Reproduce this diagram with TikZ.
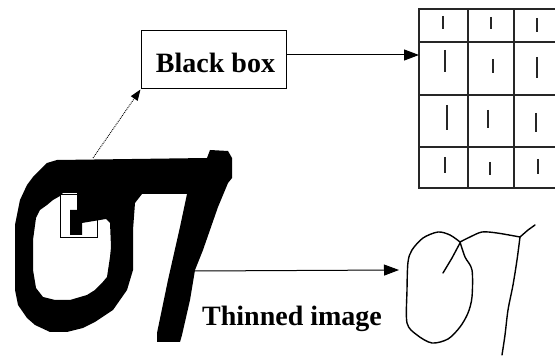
\documentclass[tikz,border=0pt]{standalone}
\usepackage{fontspec}
\setmainfont{Liberation Serif}
\usetikzlibrary{arrows.meta}
\begin{document}
\begin{tikzpicture}[x=1pt,y=-1pt,
  lbl/.style={font=\fontsize{28}{28}\selectfont\bfseries, inner sep=0pt},
  gridline/.style={line width=1.8pt, black!85},
  tick/.style={line width=2.6pt, black!85},
  bigarrow/.style={line width=1pt, -{Triangle[length=15pt,width=11pt]}},
  smallarrow/.style={line width=0.9pt, densely dotted, -{Triangle[length=11pt,width=8pt]}},
  thin/.style={line width=1.4pt, line join=round, line cap=round}]
\useasboundingbox (0,0) rectangle (555,358);
% big handwritten glyph
\fill[black, even odd rule]
  (57,160) -- (207,158) -- (210,150) -- (228,151) -- (232,158) -- (232,178) -- (228,183)
  -- (218,207) -- (203,250) -- (195,270) -- (190,300) -- (182,335) -- (180,342)
  -- (157,342) -- (157,333) -- (168,280) -- (180,227) -- (187,194) -- (142,194)
  -- (135,203) -- (133,230) -- (133,270) -- (127,290) -- (113,310) -- (95,322)
  -- (83,328) -- (67,332) -- (50,332) -- (35,325) -- (27,318) -- (18,305)
  -- (15,290) -- (15,225) -- (20,200) -- (27,185) -- (33,177) -- (40,170) -- (47,163) -- cycle
  (33,240) -- (36,218) -- (40,210) -- (47,205) -- (53,200) -- (60,196) -- (63,193)
  -- (77,193) -- (77,210) -- (70,210) -- (70,235) -- (82,235) -- (82,223)
  -- (100,220) -- (106,219) -- (110,223) -- (111,247) -- (110,257) -- (107,277)
  -- (102,283) -- (95,290) -- (87,295) -- (70,300) -- (55,300) -- (43,297)
  -- (36,288) -- (33,270) -- cycle;
\node[draw, line width=0.8pt, minimum width=37pt, minimum height=43pt, inner sep=0pt] (sq) at (79,216) {};
\coordinate (bartop) at (93,158);
\coordinate (stem) at (195,271);
% black box
\node[draw, line width=1pt, minimum width=145pt, minimum height=58pt, inner sep=0pt] (bb) at (213.5,60) {};
\node[lbl, anchor=base] (bbt) at (215.5,73) {Black box};
\draw[smallarrow] (bartop) -- (bb.south west);
% grid
\coordinate (grid) at (419,55);
\draw[gridline] (555,9) -- (419,9) -- (419,188) -- (555,188);
\foreach \yy in {42,95,147} \draw[gridline] (419,\yy) -- (555,\yy);
\foreach \xx in {468,514} \draw[gridline] (\xx,9) -- (\xx,188);
\foreach \xa/\ya/\xb/\yb in {443/16/443/29, 491/17/491/29, 537/18/537/32,
  445/50/445/72, 493/59/493/73, 537/57/537/78,
  447/105/447/130, 488/110/488/128, 536/113/536/132,
  445/157/445/173, 490/162/490/175, 538/159/538/174}
  \draw[tick] (\xa,\ya) -- (\xb,\yb);
\draw[bigarrow] ([yshift=5pt]bb.east) -- (grid);
% thinned image
\coordinate (thin) at (399,270);
\draw[bigarrow] (stem) -- (thin);
\node[lbl, anchor=base west] (ti) at (202,326) {Thinned image};
\draw[thin] plot[smooth] coordinates {(460,242) (450,235) (438,232) (423,238) (412,250) (408,262)
  (407,290) (407,323) (417,335) (432,343) (448,339) (460,327) (468,313) (472,297) (472,270) (465,257) (460,242)};
\draw[thin] (460,243) -- (452,258) -- (443,273);
\draw[thin] plot[smooth] coordinates {(460,242) (470,237) (482,232) (497,233) (520,237)};
\draw[thin] (520,237) -- (528,230) -- (535,225);
\draw[thin] plot[smooth] coordinates {(520,237) (517,260) (513,285) (508,310) (505,335) (502,355)};
\end{tikzpicture}
\end{document}
